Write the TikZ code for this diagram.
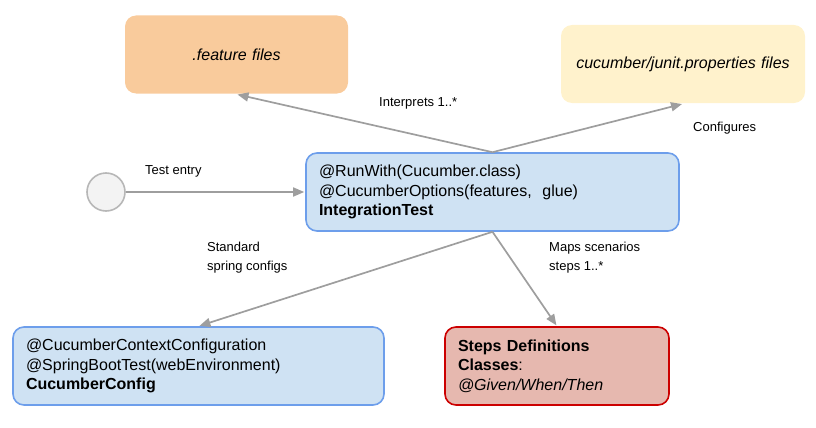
\documentclass[tikz,border=0pt]{standalone}
\usepackage{fontspec}
\setmainfont{Liberation Sans}
\usetikzlibrary{arrows.meta}
\definecolor{peach}{HTML}{F9CB9C}
\definecolor{cream}{HTML}{FFF2CC}
\definecolor{lblue}{HTML}{CFE2F3}
\definecolor{bblue}{HTML}{6D9EEB}
\definecolor{lred}{HTML}{E6B8AF}
\definecolor{bred}{HTML}{CC0000}
\definecolor{cfill}{HTML}{F3F3F3}
\definecolor{cborder}{HTML}{B7B7B7}
\definecolor{arrowgray}{HTML}{9E9E9E}
\begin{document}
\begin{tikzpicture}[x=1pt,y=-1pt,
  box/.style={rounded corners=11pt, line width=1.6pt, inner sep=0pt, font=\fontsize{16}{19.5}\selectfont},
  filebox/.style={box, minimum width=#1, minimum height=78pt, text width=#1, align=center},
  classbox/.style={box, minimum height=78pt, text width=#1, inner xsep=13pt, align=left},
  conn/.style={draw=arrowgray, line width=1.7pt, -{Triangle[length=11pt,width=9pt]}, shorten >=1pt},
  lbl/.style={anchor=west, inner sep=0pt, font=\fontsize{13}{19}\selectfont, align=left}]
\useasboundingbox (0,0) rectangle (816,428);
% nodes
\node[filebox=223pt, fill=peach] (feat) at (236.5,54.5) {\itshape .feature files};
\node[filebox=244pt, fill=cream] (prop) at (683,64) {\itshape cucumber/junit.properties files};
\node[circle, draw=cborder, fill=cfill, line width=1.6pt, minimum size=38pt, inner sep=0pt] (start) at (106,192) {};
\node[classbox=347pt, fill=lblue, draw=bblue] (it) at (492.5,192) {@RunWith(Cucumber.class)\\@CucumberOptions(features,\ \ glue)\\\textbf{IntegrationTest}};
\node[classbox=345pt, fill=lblue, draw=bblue] (cc) at (198.5,366) {@CucumberContextConfiguration\\@SpringBootTest(webEnvironment)\\\textbf{CucumberConfig}};
\node[classbox=198pt, fill=lred, draw=bred] (steps) at (557,366) {\textbf{Steps Definitions}\\\textbf{Classes}:\\\textit{@Given/When/Then}};
% connectors
\draw[conn] (it.north) -- (feat.south);
\draw[conn] (it.north) -- (prop.south);
\draw[conn] (start.east) -- (it.west);
\draw[conn] (it.south) -- (cc.north);
\draw[conn] (it.south) -- (steps.north);
% labels
\node[lbl] (l1) at (379,103) {Interprets 1..*};
\node[lbl] (l2) at (693,128) {Configures};
\node[lbl] (l3) at (145,171) {Test entry};
\node[lbl] (l4) at (207,257.5) {Standard\\spring configs};
\node[lbl] (l5) at (549,257.5) {Maps scenarios\\steps 1..*};
\end{tikzpicture}
\end{document}
